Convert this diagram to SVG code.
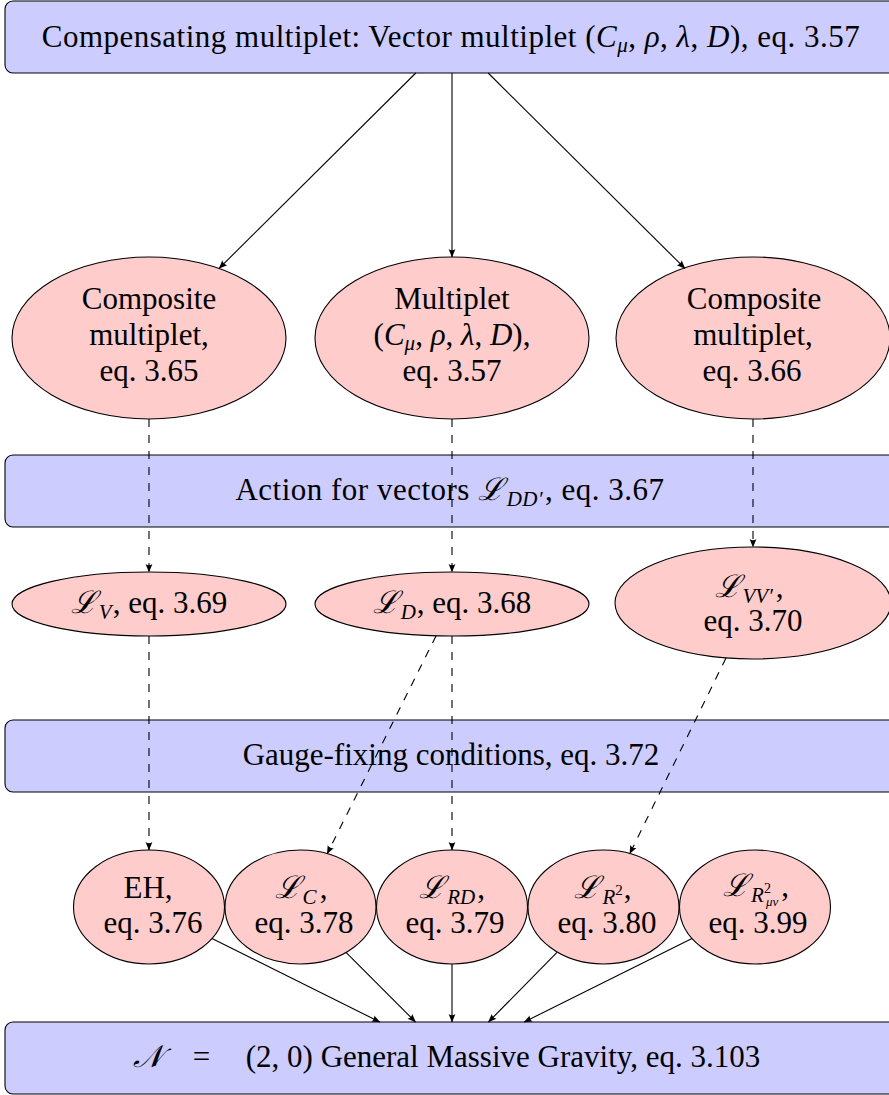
<svg xmlns="http://www.w3.org/2000/svg" width="889" height="1095" viewBox="0 0 889 1095" font-family="'Liberation Serif', 'Times New Roman', 'DejaVu Serif', serif">
<style>
.box{fill:#ccccff;stroke:#000;stroke-width:1.1}
.ell{fill:#ffcccc;stroke:#000;stroke-width:1.1}
text{font-family:'Liberation Serif','Times New Roman','DejaVu Serif',serif;font-size:31px;fill:#000;text-anchor:middle}
.m{font-style:italic}
.s{font-size:21px}
.edge{stroke:#000;stroke-width:1.1;fill:none;marker-end:url(#arr)}
.dash{stroke-dasharray:8 8}
</style>
<defs>
<marker id="arr" viewBox="-10 -5 12 10" refX="0" refY="0" markerWidth="12" markerHeight="10" markerUnits="userSpaceOnUse" orient="auto">
<path d="M0.5,0 L-8,-3.4 Q-5.5,0 -8,3.4 Z" fill="#000"/>
</marker>
</defs>

<g id="top">
<rect class="box" x="5" y="1" width="894" height="72" rx="8"/>
<text x="451" y="47" font-size="32" letter-spacing="0.5">Compensating multiplet: Vector multiplet (<tspan class="m">C</tspan><tspan class="m s" dy="5">μ</tspan><tspan dy="-5">, </tspan><tspan class="m">ρ</tspan>, <tspan class="m">λ</tspan>, <tspan class="m">D</tspan>), eq. 3.57</text>
</g>

<g id="comp1">
<ellipse class="ell" cx="149" cy="338" rx="137" ry="81"/>
<text x="149" y="309">Composite</text>
<text x="149" y="345">multiplet,</text>
<text x="149" y="381">eq. 3.65</text>
</g>

<g id="mult">
<ellipse class="ell" cx="452" cy="338" rx="137" ry="81"/>
<text x="452" y="309">Multiplet</text>
<text x="452" y="345">(<tspan class="m">C</tspan><tspan class="m s" dy="5">μ</tspan><tspan dy="-5">, </tspan><tspan class="m">ρ</tspan>, <tspan class="m">λ</tspan>, <tspan class="m">D</tspan>),</text>
<text x="452" y="381">eq. 3.57</text>
</g>

<g id="comp2">
<ellipse class="ell" cx="753" cy="338" rx="137" ry="81"/>
<text x="754" y="309">Composite</text>
<text x="753" y="345">multiplet,</text>
<text x="752" y="381">eq. 3.66</text>
</g>

<g id="action">
<rect class="box" x="5" y="455" width="894" height="72" rx="8"/>
<text x="450" y="500" letter-spacing="0.5">Action for vectors <tspan class="m">ℒ</tspan><tspan class="m s" dx="2" dy="6">DD′</tspan><tspan dx="2" dy="-6">, eq. 3.67</tspan></text>
</g>

<g id="LV">
<ellipse class="ell" cx="149" cy="604" rx="137" ry="32"/>
<text x="149" y="613"><tspan class="m">ℒ</tspan><tspan class="m s" dx="2" dy="6">V</tspan><tspan dx="1" dy="-6">, eq. 3.69</tspan></text>
</g>

<g id="LD">
<ellipse class="ell" cx="452" cy="604" rx="137" ry="32"/>
<text x="452" y="613"><tspan class="m">ℒ</tspan><tspan class="m s" dx="2" dy="6">D</tspan><tspan dx="1" dy="-6">, eq. 3.68</tspan></text>
</g>

<g id="LVV">
<ellipse class="ell" cx="753" cy="603" rx="138" ry="56"/>
<text x="749" y="597"><tspan class="m">ℒ</tspan><tspan class="m s" dx="2" dy="6">VV′</tspan><tspan dx="3" dy="-6">,</tspan></text>
<text x="753" y="631">eq. 3.70</text>
</g>

<g id="gauge">
<rect class="box" x="5" y="720" width="894" height="72" rx="8"/>
<text x="451" y="765">Gauge-fixing conditions, eq. 3.72</text>
</g>

<g id="EH">
<ellipse class="ell" cx="149" cy="907" rx="75.5" ry="57"/>
<text x="148" y="898">EH,</text>
<text x="153" y="933">eq. 3.76</text>
</g>

<g id="LC">
<ellipse class="ell" cx="300.5" cy="907" rx="75.5" ry="57"/>
<text x="301" y="898"><tspan class="m">ℒ</tspan><tspan class="m s" dx="2" dy="6">C</tspan><tspan dx="3" dy="-6">,</tspan></text>
<text x="304" y="933">eq. 3.78</text>
</g>

<g id="LRD">
<ellipse class="ell" cx="452" cy="907" rx="75.5" ry="57"/>
<text x="452" y="898"><tspan class="m">ℒ</tspan><tspan class="m s" dx="2" dy="6">RD</tspan><tspan dx="2" dy="-6">,</tspan></text>
<text x="455" y="933">eq. 3.79</text>
</g>

<g id="LR2">
<ellipse class="ell" cx="603.5" cy="907" rx="75.5" ry="57"/>
<text x="603" y="898"><tspan class="m">ℒ</tspan><tspan class="m s" dx="2" dy="6">R</tspan><tspan font-size="15" dy="-9">2</tspan><tspan dx="1" dy="3">,</tspan></text>
<text x="607" y="933">eq. 3.80</text>
</g>

<g id="LRmn">
<ellipse class="ell" cx="755" cy="907" rx="75.5" ry="57"/>
<text x="756" y="896"><tspan class="m">ℒ</tspan><tspan class="m s" dx="2" dy="6">R</tspan><tspan font-size="14" dy="-9">2</tspan><tspan class="m" font-size="13" dx="-5" dy="13">μν</tspan><tspan dx="3" dy="-10">,</tspan></text>
<text x="758" y="933">eq. 3.99</text>
</g>

<g id="gmg">
<rect class="box" x="5" y="1022" width="894" height="72" rx="8"/>
<text x="148" y="1067" class="m">𝒩</text>
<text x="201.5" y="1067">=</text>
<text x="503" y="1067">(2, 0) General Massive Gravity, eq. 3.103</text>
</g>

<g id="connectors">
<line class="edge" x1="415.8" y1="73" x2="219.1" y2="268.4"/>
<line class="edge" x1="452" y1="73" x2="452" y2="257"/>
<line class="edge" x1="488.2" y1="73" x2="684.9" y2="268.4"/>
<line class="edge dash" x1="149" y1="419" x2="149" y2="572"/>
<line class="edge dash" x1="452" y1="419" x2="452" y2="572"/>
<line class="edge dash" x1="753" y1="419" x2="753" y2="547"/>
<line class="edge dash" x1="149" y1="636" x2="149" y2="850"/>
<line class="edge dash" x1="436.1" y1="635.8" x2="327.2" y2="853.7"/>
<line class="edge dash" x1="452" y1="636" x2="452" y2="850"/>
<line class="edge dash" x1="726" y1="658" x2="629.8" y2="853.6"/>
<line class="edge" x1="212" y1="938.4" x2="379.8" y2="1022"/>
<line class="edge" x1="346" y1="952.4" x2="415.5" y2="1022"/>
<line class="edge" x1="452" y1="964" x2="452" y2="1022"/>
<line class="edge" x1="557" y1="952.4" x2="488.5" y2="1022"/>
<line class="edge" x1="692" y1="938.4" x2="524.2" y2="1022"/>
</g>
</svg>
